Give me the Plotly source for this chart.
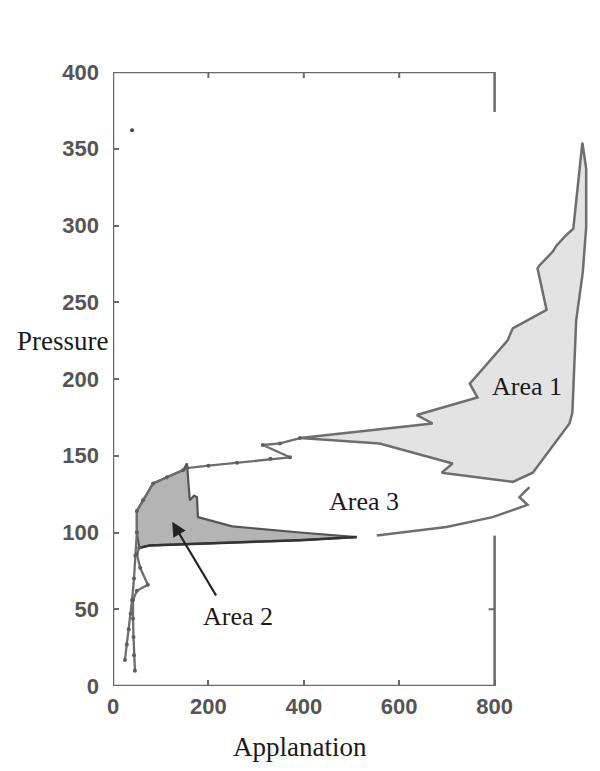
import plotly.graph_objects as go

# ---------------- data (Applanation, Pressure) ----------------
# loading path: beaded strand at bottom-left, up the wall, then right to Area 1 tip
load_x = [25, 29, 33, 37, 40, 44, 47, 50, 50, 63, 84, 113, 147, 155, 200, 260, 330, 371, 314, 350, 392]
load_y = [17, 27, 37, 47, 56, 70, 85, 100, 114, 121, 132, 136, 140.6, 142, 143.5, 145.5, 148, 149, 157, 158, 161.5]

# second strand with small loop
strand_x = [46, 44, 43, 42, 42, 50, 73, 57, 50, 55]
strand_y = [10, 20, 32, 44, 56, 62, 66, 77, 86, 90]

# Area 1 outline (tip -> upper edge -> peak -> right edge -> lower edge -> tip)
a1_x = [392, 670, 637, 764, 748, 827, 838, 909, 890, 894, 922, 930, 951, 965, 984,
        992, 992, 985, 971, 963, 963, 957, 880, 838, 689, 712, 559, 392]
a1_y = [161.5, 171, 176.5, 188, 197, 225, 233, 245, 272, 274, 283, 287, 294, 298, 354,
        337, 299, 270, 238, 186, 178, 171, 139, 133, 139, 145, 158, 161.5]

# Area 2 outline
a2_x = [50, 63, 84, 113, 147, 155, 157, 159, 161, 170, 176, 178, 250, 392, 511, 392, 77, 63, 55, 50, 50]
a2_y = [114, 121, 132, 136, 140.6, 145, 136, 128, 121, 124, 123, 110, 104, 100, 97, 95, 91.6, 90.5, 90, 100, 114]

# Area 2 lower (dark) boundary
a2low_x = [55, 63, 77, 392, 511]
a2low_y = [90, 90.5, 91.6, 95, 97]

# return path bounding Area 3 from below
ret_x = [873, 852, 869, 796, 699, 553]
ret_y = [129.6, 123, 118, 110, 103.6, 98]

# isolated dot
dot_x = [40]
dot_y = [362]

x_ticks = [0, 200, 400, 600, 800]
y_ticks = [0, 50, 100, 150, 200, 250, 300, 350, 400]
right_ticks = [50]
x_box = [0, 800]
y_box = [0, 400]
right_gap = [98, 374]

LINE = "#6e6e6e"
AXC = "#6a6a6a"

fig = go.Figure()
fig.add_trace(go.Scatter(x=a1_x, y=a1_y, mode="lines", fill="toself", fillcolor="#e3e3e3",
                         line=dict(color=LINE, width=2.5), hoverinfo="skip"))
fig.add_trace(go.Scatter(x=a2_x, y=a2_y, mode="lines", fill="toself", fillcolor="#b4b4b4",
                         line=dict(color="#555555", width=2.2), hoverinfo="skip"))
fig.add_trace(go.Scatter(x=a2low_x, y=a2low_y, mode="lines",
                         line=dict(color="#333333", width=2.5), hoverinfo="skip"))
fig.add_trace(go.Scatter(x=load_x, y=load_y, mode="lines+markers",
                         line=dict(color=LINE, width=2.3), marker=dict(size=4, color="#5e5e5e"),
                         hoverinfo="skip"))
fig.add_trace(go.Scatter(x=strand_x, y=strand_y, mode="lines+markers",
                         line=dict(color=LINE, width=2.3), marker=dict(size=4, color="#5e5e5e"),
                         hoverinfo="skip"))
fig.add_trace(go.Scatter(x=ret_x, y=ret_y, mode="lines",
                         line=dict(color=LINE, width=2.5), hoverinfo="skip"))
fig.add_trace(go.Scatter(x=dot_x, y=dot_y, mode="markers",
                         marker=dict(size=4, color="#444444"), hoverinfo="skip"))

# box lines
shapes = [
    dict(type="line", x0=x_box[0], x1=x_box[1], y0=y_box[0], y1=y_box[0]),
    dict(type="line", x0=x_box[0], x1=x_box[1], y0=y_box[1], y1=y_box[1]),
    dict(type="line", x0=x_box[0], x1=x_box[0], y0=y_box[0], y1=y_box[1]),
    dict(type="line", x0=x_box[1], x1=x_box[1], y0=y_box[0], y1=right_gap[0]),
    dict(type="line", x0=x_box[1], x1=x_box[1], y0=right_gap[1], y1=y_box[1]),
]
for s in shapes:
    s.update(xref="x", yref="y", line=dict(color=AXC, width=2.5), layer="above")
# top ticks
for t in x_ticks[1:-1]:
    shapes.append(dict(type="line", xref="x", yref="y", x0=t, x1=t, ysizemode="pixel",
                       yanchor=y_box[1], y0=0, y1=-6, line=dict(color=AXC, width=2)))
# right ticks
for t in right_ticks:
    shapes.append(dict(type="line", xref="x", yref="y", y0=t, y1=t, xsizemode="pixel",
                       xanchor=x_box[1], x0=0, x1=-6, line=dict(color=AXC, width=2)))

serif = dict(family="Liberation Serif", size=26, color="#1a1a1a")
annotations = [
    dict(x=867, y=195, text="Area 1", showarrow=False, font=serif, xref="x", yref="y"),
    dict(x=526, y=120, text="Area 3", showarrow=False, font=serif, xref="x", yref="y"),
    dict(x=262, y=45, text="Area 2", showarrow=False, font=serif, xref="x", yref="y"),
    dict(x=124, y=107, ax=218, ay=58, axref="x", ayref="y", xref="x", yref="y", text="",
         showarrow=True, arrowhead=2, arrowsize=1.3, arrowwidth=2.2, arrowcolor="#222222"),
    dict(x=-0.105, y=225, xref="paper", yref="y", xanchor="center", text="Pressure",
         showarrow=False, font=dict(family="Liberation Serif", size=27, color="#1a1a1a")),
    dict(x=0.392, y=-0.1, xref="paper", yref="paper", xanchor="center", yanchor="middle",
         text="Applanation", showarrow=False,
         font=dict(family="Liberation Serif", size=27, color="#1a1a1a")),
]

tickfont = dict(family="Liberation Sans", size=22, color="#555555", weight="bold")
# page body has an 8px margin, so the figure is sized/offset to compensate
fig.update_layout(
    width=592, height=763,
    margin=dict(l=105, r=10, t=64, b=85),
    paper_bgcolor="white", plot_bgcolor="white",
    showlegend=False,
    shapes=shapes,
    annotations=annotations,
    xaxis=dict(range=[0, 1000], tickvals=x_ticks, ticktext=[str(v) for v in x_ticks],
               ticks="inside", ticklen=6, tickwidth=2, tickcolor=AXC, showgrid=False,
               zeroline=False, showline=False, tickfont=tickfont, ticklabelstandoff=5,
               fixedrange=True),
    yaxis=dict(range=[0, 400], tickvals=y_ticks, ticktext=[str(v) for v in y_ticks],
               ticks="inside", ticklen=6, tickwidth=2, tickcolor=AXC, showgrid=False,
               zeroline=False, showline=False, tickfont=tickfont, ticklabelstandoff=13,
               fixedrange=True),
)

fig.write_html("out.html")
